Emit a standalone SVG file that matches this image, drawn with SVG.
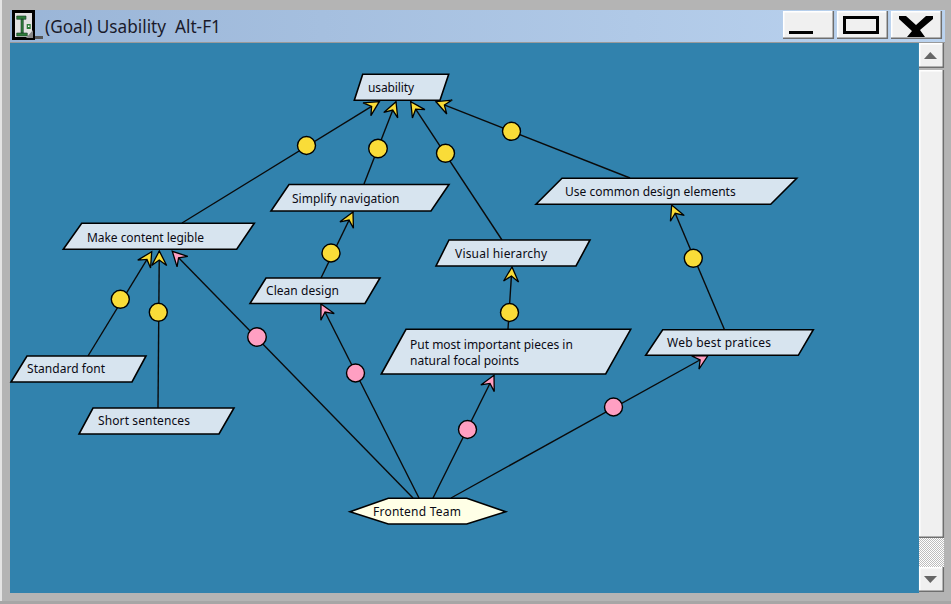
<svg xmlns="http://www.w3.org/2000/svg" width="951" height="604" viewBox="0 0 951 604">
<style>
.n{fill:#d7e4ef;stroke:#000;stroke-width:1.6;stroke-linejoin:miter}
.t{font-family:"Noto Sans","Liberation Sans",sans-serif;font-size:12px;fill:#0a0a14}
.c{fill:none;stroke:#0a0a0a;stroke-width:1.4}
.y{marker-end:url(#ay)}
.p{marker-end:url(#ap)}
.dy{fill:#f9dc38;stroke:#000;stroke-width:1.4}
.dp{fill:#ff9fc2;stroke:#000;stroke-width:1.4}
.b{fill:#f0f0f0}
.hi{fill:none;stroke:#fff;stroke-width:1.5}
.lo{fill:none;stroke:#6e6e6e;stroke-width:1.5}
</style>
<defs>
<linearGradient id="tb" x1="0" x2="1" y1="0" y2="0"><stop offset="0" stop-color="#9ab5d7"/><stop offset="1" stop-color="#bbd3ef"/></linearGradient>
<pattern id="ck" width="2" height="2" patternUnits="userSpaceOnUse"><rect width="2" height="2" fill="#fff"/><rect width="1" height="1" fill="#bdbdbd"/><rect x="1" y="1" width="1" height="1" fill="#bdbdbd"/></pattern>
<marker id="ay" markerUnits="userSpaceOnUse" viewBox="-17 -9 19 18" refX="0" refY="0" markerWidth="19" markerHeight="18" orient="auto"><path d="M0,0L-14.500,-7.500L-9,0L-14.500,7.500Z" fill="#f9dc38" stroke="#000" stroke-width="1.3"/></marker>
<marker id="ap" markerUnits="userSpaceOnUse" viewBox="-17 -9 19 18" refX="0" refY="0" markerWidth="19" markerHeight="18" orient="auto"><path d="M0,0L-14.500,-7.500L-9,0L-14.500,7.500Z" fill="#ff9fc2" stroke="#000" stroke-width="1.3"/></marker>
</defs>
<rect width="951" height="604" fill="#b4b4b4"/>
<rect x="0" y="0" width="2" height="604" fill="#e4e4e4"/>
<rect x="0" y="601" width="951" height="3" fill="#a6a6a6"/>
<rect x="10" y="10" width="935" height="32" fill="url(#tb)"/>
<rect x="10" y="42" width="935" height="1" fill="#9a9a9a"/>
<rect x="10" y="43" width="909" height="550" fill="#3182ad"/>

<g id="title-icon">
<path d="M35,37.500H43" stroke="#555" stroke-width="3"/>
<rect x="13.500" y="11.500" width="20" height="27" fill="#e2e2e2" stroke="#000" stroke-width="3"/>
<path d="M26,38L33,38L33,30Z" fill="#888"/>
<path d="M16.700,16H26V19.300H16.700ZM21,19H23.300V33H21ZM16.700,33H27.300V36H16.700Z" fill="#2e7d3a" stroke="#1a3a2a" stroke-width="0.6"/>
<rect x="26.700" y="24" width="4" height="5" fill="#2e7d3a"/>
<rect x="28" y="25.500" width="1.500" height="1.500" fill="#fff"/>
</g>
<text x="45" y="33" style="white-space:pre" font-family="'Noto Sans','Liberation Sans',sans-serif" font-size="17.200" fill="#1a1a2a">(Goal) Usability  Alt-F1</text>

<g id="window-buttons">
<rect class="b" x="783" y="11" width="51" height="28"/><path class="hi" d="M783.700,39V11.700H834"/><path class="lo" d="M783,38.300H833.300V11"/>
<rect class="b" x="837" y="11" width="51" height="28"/><path class="hi" d="M837.700,39V11.700H888"/><path class="lo" d="M837,38.300H887.300V11"/>
<rect class="b" x="891" y="11" width="51" height="28"/><path class="hi" d="M891.700,39V11.700H942"/><path class="lo" d="M891,38.300H941.300V11"/>
<rect x="789" y="31" width="24" height="3"/>
<rect x="844.500" y="17.500" width="33" height="15" fill="none" stroke="#000" stroke-width="3"/>
<path d="M899,16H906L916,25L926,16H933V19L920,30L925,37H907L912,31L899,19Z"/>
</g>

<g id="scrollbar">
<rect x="919" y="43" width="26" height="550" fill="#b4b4b4"/>
<rect class="b" x="919" y="43" width="25" height="25"/><path class="hi" d="M919.700,68V43.700H944"/><path class="lo" d="M919,67.300H943.300V43"/>
<path d="M924,59L930.300,52L937,59Z" fill="#666"/>
<rect class="b" x="919" y="70" width="25" height="468"/><path class="hi" d="M919.700,538V70.700H944"/><path class="lo" d="M919,537.300H943.300V70"/>
<rect x="919" y="538" width="25" height="29" fill="url(#ck)"/>
<rect class="b" x="919" y="567" width="25" height="25"/><path class="hi" d="M919.700,592V567.700H944"/><path class="lo" d="M919,591.300H943.300V567"/>
<path d="M924,576H937L930.300,583Z" fill="#666"/>
</g>

<g id="connectors">
<path class="c y" d="M182,223L379.300,101.700"/>
<path class="c y" d="M364,184L396,101.700"/>
<path class="c y" d="M502,240L410.700,101.700"/>
<path class="c y" d="M630,178L436,101.700"/>
<path class="c y" d="M88,356L151.700,251.700"/>
<path class="c y" d="M158,408L159.300,251"/>
<path class="c p" d="M413,498L172.300,251.300"/>
<path class="c p" d="M419,498L321,304"/>
<path class="c p" d="M433,498L494,375.300"/>
<path class="c p" d="M451,498L708,355.500"/>
<path class="c y" d="M321,278L353,212"/>
<path class="c y" d="M508,329L512,267"/>
<path class="c y" d="M724.300,329.300L671.700,205"/>
<circle class="dy" cx="306.500" cy="145.500" r="9"/>
<circle class="dy" cx="378" cy="148.500" r="9.300"/>
<circle class="dy" cx="445.500" cy="153.300" r="9"/>
<circle class="dy" cx="511.500" cy="131.300" r="9"/>
<circle class="dy" cx="120.300" cy="299.300" r="9"/>
<circle class="dy" cx="158.300" cy="312.300" r="9"/>
<circle class="dy" cx="331" cy="253" r="9"/>
<circle class="dy" cx="509.500" cy="312.500" r="9"/>
<circle class="dy" cx="693.300" cy="258.300" r="9"/>
<circle class="dp" cx="257" cy="337" r="9.300"/>
<circle class="dp" cx="355.500" cy="373" r="9"/>
<circle class="dp" cx="467.500" cy="429.500" r="9"/>
<circle class="dp" cx="613.500" cy="407" r="9"/>
</g>

<g id="node-usability"><path class="n" d="M362.700,74.300H448.700L440,100.300H354.300Z"/><text class="t" x="368" y="92" textLength="46">usability</text></g>
<g id="node-make-content-legible"><path class="n" d="M81.700,223.300H254.300L236.700,249.300H63.300Z"/><text class="t" x="87" y="242" textLength="117">Make content legible</text></g>
<g id="node-simplify-navigation"><path class="n" d="M289,184.500H449L431,211H271Z"/><text class="t" x="292" y="203">Simplify navigation</text></g>
<g id="node-use-common"><path class="n" d="M562,178.300H796.700L770.700,204.300H536Z"/><text class="t" x="565" y="196">Use common design elements</text></g>
<g id="node-visual-hierarchy"><path class="n" d="M449,240H590L576,266H436Z"/><text class="t" x="455" y="258" textLength="92">Visual hierarchy</text></g>
<g id="node-clean-design"><path class="n" d="M266,278H380L365,303.500H250Z"/><text class="t" x="266" y="295" textLength="73">Clean design</text></g>
<g id="node-put-most"><path class="n" d="M406,329.300H630.700L605.700,374H381.300Z"/><text class="t" x="410" y="349">Put most important pieces in</text><text class="t" x="410" y="365">natural focal points</text></g>
<g id="node-web-best"><path class="n" d="M662.700,329.700H813.300L798.300,355.300H645.700Z"/><text class="t" x="667" y="347" textLength="104">Web best pratices</text></g>
<g id="node-standard-font"><path class="n" d="M27,356H146L132,382H11Z"/><text class="t" x="27" y="373" textLength="78">Standard font</text></g>
<g id="node-short-sentences"><path class="n" d="M93,408H234L219,434H79Z"/><text class="t" x="98" y="425" textLength="92">Short sentences</text></g>
<g id="node-frontend-team"><path d="M350,511.700L388.300,498.300H466.700L505.700,511.700L466.700,524H388.300Z" fill="#ffffe6" stroke="#000" stroke-width="1.6"/><text class="t" x="373" y="516" textLength="88">Frontend Team</text></g>
</svg>
